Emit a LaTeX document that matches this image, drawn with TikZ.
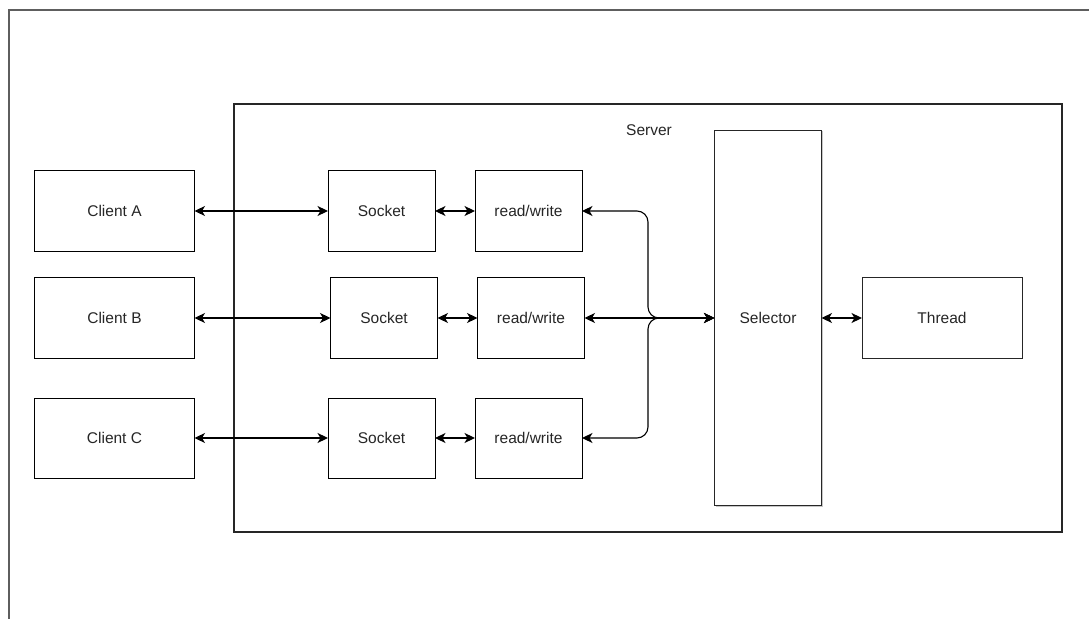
\documentclass[tikz,border=0pt]{standalone}
\usepackage{fontspec}
\setmainfont{Liberation Sans}
\usetikzlibrary{arrows.meta,shadows}
\definecolor{framegray}{HTML}{5E5E5E}
\begin{document}
\begin{tikzpicture}[x=1bp,y=-1bp,
  lbl/.style={font=\fontsize{15.5bp}{18bp}\selectfont, text=black!85},
  box/.style={lbl, draw=black, fill=white, line width=1bp, inner sep=0pt, outer sep=0pt},
  shbox/.style={box, draw=black!85, line width=1.1bp,
    drop shadow={shadow xshift=1bp, shadow yshift=-1bp, fill=black, opacity=0.22}},
  tip/.tip={Stealth[length=10.5bp,width=10bp,inset=3bp]},
  link/.style={tip-tip, line width=1.1bp, draw=black}]
\useasboundingbox (0,0) rectangle (1089,619);

% outer frame (top and left edges)
\draw[framegray, line width=2bp] (1089,10.5) -- (8.5,10.5) -- (8.5,619);

% server container
\node[shbox, minimum width=828bp, minimum height=428bp] (server) at (648,318) {};
\node[lbl] (serverlbl) at (649,130) {Server};

% clients
\node[box, minimum width=160bp, minimum height=80bp] (clientA) at (114.5,211) {Client A};
\node[box, minimum width=160bp, minimum height=80bp] (clientB) at (114.5,318) {Client B};
\node[box, minimum width=160bp, minimum height=80bp] (clientC) at (114.5,438) {Client C};

% sockets
\node[box, minimum width=107bp, minimum height=80bp] (sockA) at (381.5,211) {Socket};
\node[box, minimum width=107bp, minimum height=80bp] (sockB) at (384,318) {Socket};
\node[box, minimum width=107bp, minimum height=80bp] (sockC) at (381.5,438) {Socket};

% read/write handlers
\node[box, minimum width=107bp, minimum height=80bp] (rwA) at (528.5,211) {read/write};
\node[box, minimum width=107bp, minimum height=80bp] (rwB) at (531,318) {read/write};
\node[box, minimum width=107bp, minimum height=80bp] (rwC) at (528.5,438) {read/write};

% selector and thread
\node[shbox, minimum width=107bp, minimum height=375bp] (selector) at (768,318) {Selector};
\node[box, draw=black!85, minimum width=160bp, minimum height=80bp] (thread) at (942,318) {Thread};

% junction where the read/write channels merge
\coordinate (junc) at (648,318);

% connectors
\draw[link] (clientA.east) -- (sockA.west);
\draw[link] (clientB.east) -- (sockB.west);
\draw[link] (clientC.east) -- (sockC.west);
\draw[link] (sockA.east) -- (rwA.west);
\draw[link] (sockB.east) -- (rwB.west);
\draw[link] (sockC.east) -- (rwC.west);
\draw[link, rounded corners=11bp] (rwA.east) -| (junc) -- (selector.west);
\draw[link, rounded corners=11bp] (rwC.east) -| (junc) -- (selector.west);
\draw[link] (rwB.east) -- (selector.west);
\draw[link] (selector.east) -- (thread.west);
\end{tikzpicture}
\end{document}
